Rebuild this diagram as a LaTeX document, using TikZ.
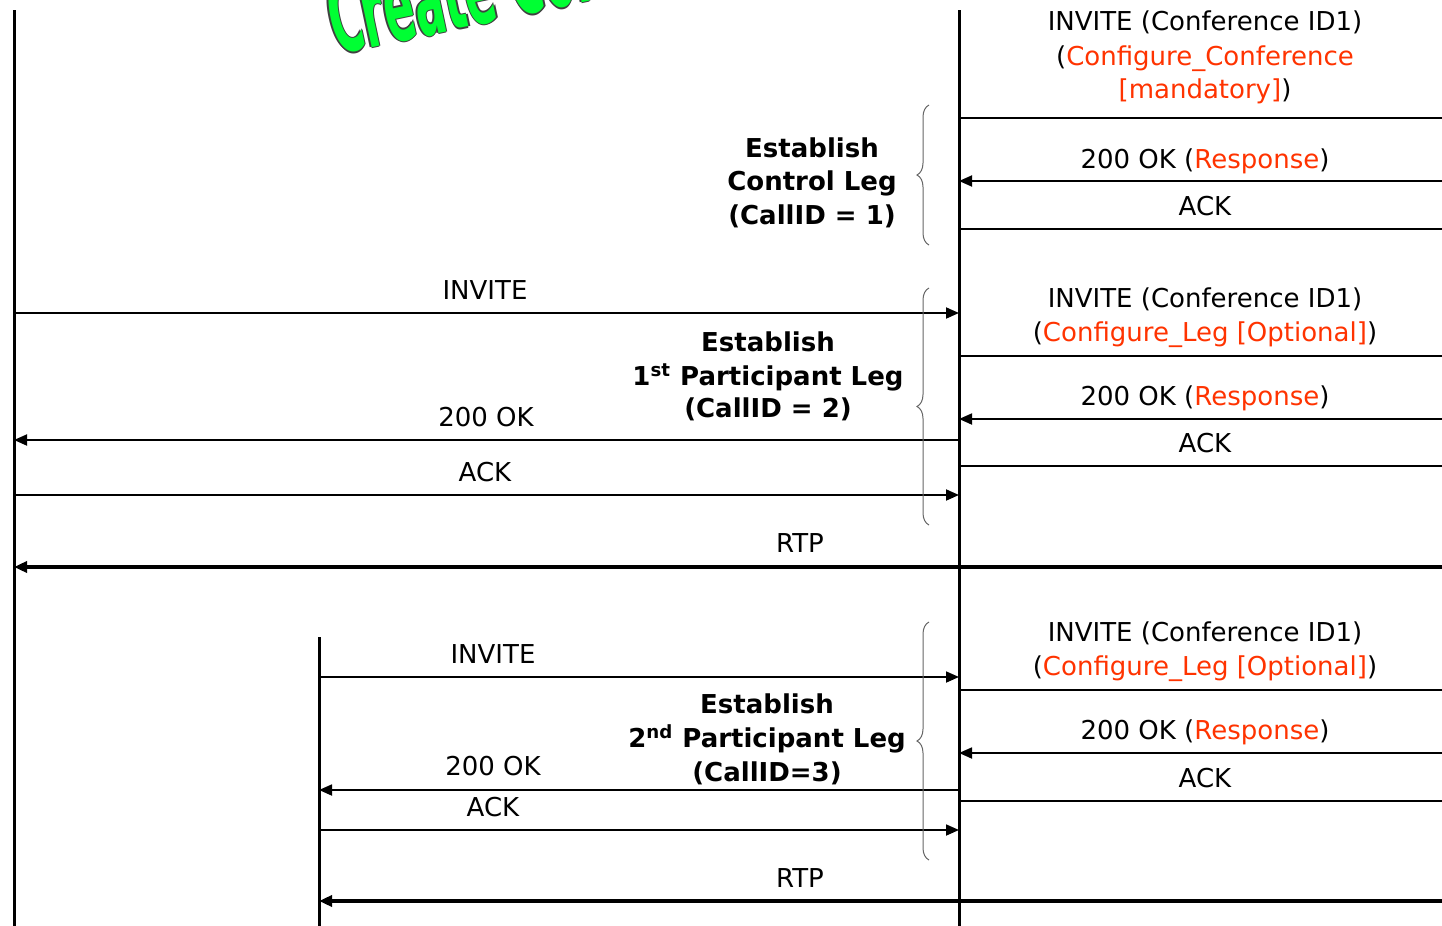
\documentclass[tikz,border=0pt]{standalone}
\usepackage{fontspec}
\setmainfont{DejaVu Sans}
\usetikzlibrary{arrows.meta,decorations.pathreplacing}
\definecolor{cred}{HTML}{FF3300}
\definecolor{wgreen}{HTML}{00FF33}
\begin{document}
\begin{tikzpicture}[x=0.5pt,y=-0.5pt,
 life/.style={line width=1.5pt},
 msg/.style={line width=0.9pt,-{Triangle[length=6.5pt,width=5.5pt]}},
 rtp/.style={line width=1.9pt,{Triangle[length=6.5pt,width=5.5pt]}-{Triangle[length=6.5pt,width=5.5pt]}},
 lbl/.style={anchor=base,inner sep=0pt,font=\fontsize{13}{17}\selectfont},
 blbl/.style={anchor=base,inner sep=0pt,font=\bfseries\fontsize{13}{16.5}\selectfont},
 brc/.style={draw=black!60,line width=0.5pt,decorate,decoration={brace,amplitude=6pt}},
 wa/.style={anchor=base west,inner sep=0pt,rotate=12,xscale=0.45,font=\bfseries\fontsize{50}{52}\selectfont}
]
\useasboundingbox (0,0) rectangle (1442,926);
\clip (0,0) rectangle (1442,926);
% WordArt title (mostly cut off)
\foreach \dx/\dy in {-1.5/0,1.5/0,0/-1.5,0/1.5}
  \node[wa,text=black!75] at (336+\dx,55+\dy) {Create Conference};
\node[wa,text=wgreen] (title) at (336,55) {Create Conference};
% lifelines
\coordinate (Ltop) at (14,10); \coordinate (Lbot) at (14,926);
\coordinate (Mtop) at (959,10); \coordinate (Mbot) at (959,926);
\coordinate (Ptop) at (319,637); \coordinate (Pbot) at (319,926);
\draw[life] (Ltop) -- (Lbot);
\draw[life] (Mtop) -- (Mbot);
\draw[life] (Ptop) -- (Pbot);
% messages
\foreach \n/\xa/\xb/\y in {
  ra/959/1458/118, rb/1458/959/181, rc/959/1458/229,
  rd/959/1458/356, re/1458/959/419, rf/959/1458/466,
  rg/959/1458/690, rh/1458/959/753, ri/959/1458/801,
  la/14/959/313, lb/959/14/440, lc/14/959/495,
  pa/319/959/677, pb/959/319/790, pc/319/959/830}{
  \coordinate (\n1) at (\xa,\y); \coordinate (\n2) at (\xb,\y);
  \draw[msg] (\n1) -- (\n2);
}
\coordinate (rtpa1) at (14,567); \coordinate (rtpa2) at (1458,567);
\draw[rtp] (rtpa1) -- (rtpa2);
\coordinate (rtpb1) at (319,901); \coordinate (rtpb2) at (1458,901);
\draw[rtp] (rtpb1) -- (rtpb2);
% right labels
\node[lbl] (ta1) at (1205,31) {INVITE (Conference ID1)};
\node[lbl] (ta2) at (1205,65) {(\textcolor{cred}{Configure\_Conference}};
\node[lbl] (ta3) at (1205,98) {\textcolor{cred}{[mandatory]})};
\node[lbl] (tb) at (1205,168) {200 OK (\textcolor{cred}{Response})};
\node[lbl] (tc) at (1205,215) {ACK};
\node[lbl] (td1) at (1205,307) {INVITE (Conference ID1)};
\node[lbl] (td2) at (1205,341) {(\textcolor{cred}{Configure\_Leg [Optional]})};
\node[lbl] (te) at (1205,405) {200 OK (\textcolor{cred}{Response})};
\node[lbl] (tf) at (1205,452) {ACK};
\node[lbl] (tg1) at (1205,641) {INVITE (Conference ID1)};
\node[lbl] (tg2) at (1205,675) {(\textcolor{cred}{Configure\_Leg [Optional]})};
\node[lbl] (th) at (1205,739) {200 OK (\textcolor{cred}{Response})};
\node[lbl] (ti) at (1205,787) {ACK};
% left labels
\node[lbl] (ua) at (485,299) {INVITE};
\node[lbl] (ub) at (486,426) {200 OK};
\node[lbl] (uc) at (485,481) {ACK};
\node[lbl] (va) at (493,663) {INVITE};
\node[lbl] (vb) at (493,775) {200 OK};
\node[lbl] (vc) at (493,816) {ACK};
\node[lbl] (rtpl1) at (800,552) {RTP};
\node[lbl] (rtpl2) at (800,887) {RTP};
% bold group labels
\node[blbl] (ga1) at (812,157) {Establish};
\node[blbl] (ga2) at (812,190) {Control Leg};
\node[blbl] (ga3) at (812,224) {(CallID = 1)};
\node[blbl] (gb1) at (768,351) {Establish};
\node[blbl] (gb2) at (768,385) {1\textsuperscript{st} Participant Leg};
\node[blbl] (gb3) at (768,417) {(CallID = 2)};
\node[blbl] (gc1) at (767,713) {Establish};
\node[blbl] (gc2) at (767,747) {2\textsuperscript{nd} Participant Leg};
\node[blbl] (gc3) at (767,781) {(CallID=3)};
% braces
\coordinate (ba1) at (929,245); \coordinate (ba2) at (929,105);
\coordinate (bb1) at (929,525); \coordinate (bb2) at (929,288);
\coordinate (bc1) at (929,860); \coordinate (bc2) at (929,622);
\draw[brc] (ba1) -- (ba2);
\draw[brc] (bb1) -- (bb2);
\draw[brc] (bc1) -- (bc2);
\end{tikzpicture}
\end{document}
